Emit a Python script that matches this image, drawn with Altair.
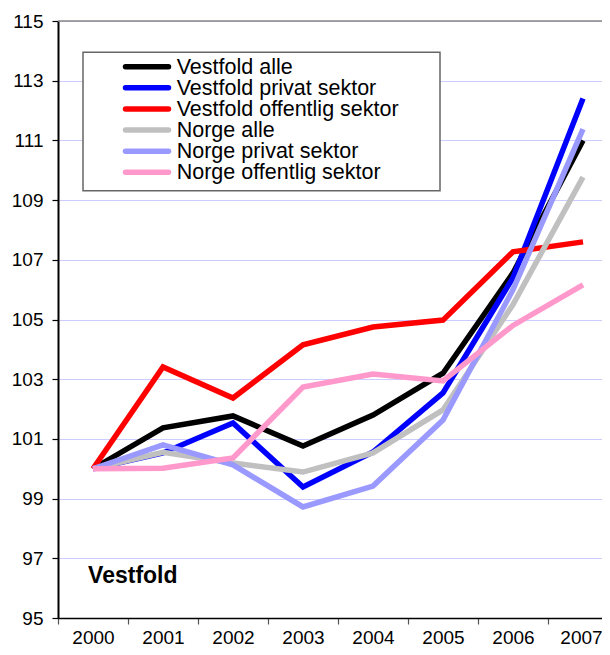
import altair as alt
import pandas as pd

years = [2000, 2001, 2002, 2003, 2004, 2005, 2006, 2007]
series_names = [
    "Vestfold alle",
    "Vestfold privat sektor",
    "Vestfold offentlig sektor",
    "Norge alle",
    "Norge privat sektor",
    "Norge offentlig sektor",
]
vestfold_alle = [100.0, 101.37, 101.77, 100.76, 101.80, 103.20, 106.56, 111.00]
vestfold_privat = [100.0, 100.53, 101.53, 99.39, 100.56, 102.54, 106.40, 112.40]
vestfold_offentlig = [100.0, 103.41, 102.37, 104.15, 104.75, 104.98, 107.27, 107.60]
norge_alle = [100.0, 100.55, 100.19, 99.89, 100.53, 101.97, 105.50, 109.77]
norge_privat = [100.0, 100.80, 100.13, 98.72, 99.42, 101.63, 106.00, 111.38]
norge_offentlig = [100.0, 100.02, 100.36, 102.74, 103.17, 102.94, 104.80, 106.16]
series_values = [vestfold_alle, vestfold_privat, vestfold_offentlig,
                 norge_alle, norge_privat, norge_offentlig]
colors = ["#000000", "#0000ff", "#ff0000", "#c0c0c0", "#9999ff", "#ff99cc"]
widths = [5.5, 5.5, 5.5, 3.2, 3.2, 3.2]
y_ticks = [95, 97, 99, 101, 103, 105, 107, 109, 111, 113, 115]
x_boundaries = [1999.5, 2000.5, 2001.5, 2002.5, 2003.5, 2004.5, 2005.5, 2006.5]
panel_label = ["Vestfold"]

FONT = "Liberation Sans"

rows = []
for name, vals in zip(series_names, series_values):
    for yr, v in zip(years, vals):
        rows.append({"year": yr, "value": v, "series": name})
df = pd.DataFrame(rows)

legend_df = pd.DataFrame({"series": series_names, "row": list(range(len(series_names)))})

xscale = alt.Scale(domain=[1999.5, 2007.2714], nice=False, zero=False)
yscale = alt.Scale(domain=[95, 115], nice=False, zero=False)
color_scale = alt.Scale(domain=series_names, range=colors)
width_scale = alt.Scale(domain=series_names, range=widths)
legend_row_scale = alt.Scale(domain=[0, 5], range=[45.7, 151.3], nice=False, zero=False)

y_axis = alt.Axis(values=y_ticks, tickSize=6, tickColor="#000000", tickWidth=1.2,
                  domainColor="#000000", domainWidth=2, grid=True,
                  gridColor="#ccccff", gridWidth=1, labelFontSize=19,
                  labelFont=FONT, labelColor="#000000", labelPadding=9,
                  title=None)

lines = alt.Chart(df).mark_line(strokeMiterLimit=4).encode(
    x=alt.X("year:Q", scale=xscale,
            axis=alt.Axis(values=x_boundaries, labels=False, ticks=True, tickSize=6,
                          tickColor="#555555", tickWidth=1.2, domainColor="#000000",
                          domainWidth=1.5, grid=False, title=None, orient="bottom")),
    y=alt.Y("value:Q", scale=yscale, axis=y_axis),
    color=alt.Color("series:N", scale=color_scale, legend=None),
    strokeWidth=alt.StrokeWidth("series:N", scale=width_scale, legend=None),
)

top_df = pd.DataFrame({"v": [115]})
top_rule = alt.Chart(top_df).mark_rule(color="#888888", strokeWidth=1.5).encode(
    y=alt.Y("v:Q", scale=yscale, axis=None)
)

box = alt.Chart(pd.DataFrame({"k": [0]})).mark_rect(
    fill="white", stroke="#666666", strokeWidth=1.5
).encode(
    x=alt.value(25), x2=alt.value(382), y=alt.value(31.3), y2=alt.value(169.7)
)

legend_lines = alt.Chart(legend_df).mark_rule(strokeCap="round").encode(
    x=alt.value(67.5), x2=alt.value(110.5),
    y=alt.Y("row:Q", scale=legend_row_scale, axis=None),
    color=alt.Color("series:N", scale=color_scale, legend=None),
    strokeWidth=alt.StrokeWidth("series:N", scale=width_scale, legend=None),
)

legend_text = alt.Chart(legend_df).mark_text(
    align="left", baseline="middle", fontSize=21.5, font=FONT, color="#000000", dy=1
).encode(
    x=alt.value(118.7),
    y=alt.Y("row:Q", scale=legend_row_scale, axis=None),
    text="series:N",
)

label_df = pd.DataFrame({"x": [1999.93], "y": [96.17], "t": panel_label})
label = alt.Chart(label_df).mark_text(
    align="left", baseline="alphabetic", fontSize=23, fontWeight="bold",
    font=FONT, color="#000000"
).encode(
    x=alt.X("x:Q", scale=xscale,
            axis=alt.Axis(values=years, format="d", ticks=False, domain=False,
                          grid=False, labels=True, labelFontSize=19, labelFont=FONT,
                          labelColor="#000000", labelPadding=25, orient="bottom",
                          labelBaseline="alphabetic", labelFlush=False, title=None,
                          labelOffset=alt.condition("datum.value == 2007",
                                                    alt.value(-2), alt.value(0)))),
    y=alt.Y("y:Q", scale=yscale, axis=None),
    text="t:N",
)

chart = alt.layer(
    lines, top_rule, box, legend_lines, legend_text, label
).resolve_axis(x="independent").resolve_scale(y="independent").properties(
    width=544, height=597,
    autosize=alt.AutoSizeParams(type="none"),
    padding={"left": 50, "top": 13, "right": 0, "bottom": 29},
    background="white",
).configure_view(stroke=None)

chart.save("out.html", embed_options={"renderer": "svg", "actions": False})
